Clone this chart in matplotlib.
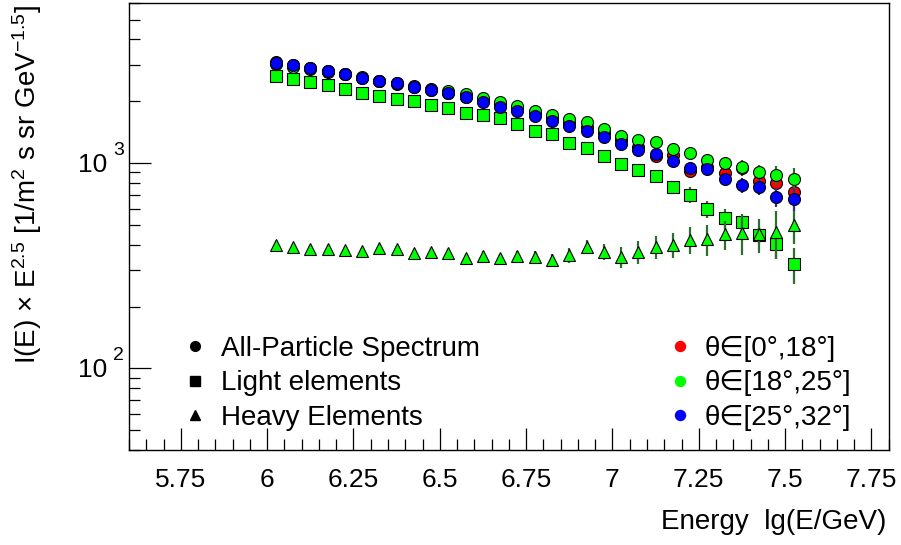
import matplotlib
matplotlib.use('Agg')
import numpy as np
import matplotlib.pyplot as plt
from matplotlib.lines import Line2D
from matplotlib.ticker import MultipleLocator, FixedLocator, NullFormatter, LogLocator
from matplotlib.transforms import offset_copy

plt.rcParams['font.family'] = ['Liberation Sans', 'DejaVu Sans']
plt.rcParams['mathtext.fontset'] = 'custom'
plt.rcParams['mathtext.rm'] = 'Liberation Sans'
plt.rcParams['mathtext.it'] = 'Liberation Sans:italic'
plt.rcParams['mathtext.default'] = 'regular'

# ---------------- data ----------------
lg_E = [6.025, 6.075, 6.125, 6.175, 6.225, 6.275, 6.325, 6.375, 6.425, 6.475,
        6.525, 6.575, 6.625, 6.675, 6.725, 6.775, 6.825, 6.875, 6.925, 6.975,
        7.025, 7.075, 7.125, 7.175, 7.225, 7.275, 7.325, 7.375, 7.425, 7.475, 7.525]

all_theta0 = [3105, 3018, 2902, 2806, 2714, 2610, 2508, 2439, 2359, 2268,
              2193, 2108, 2005, 1917, 1832, 1733, 1657, 1566, 1497, 1400,
              1294, 1200, 1082, 1094, 917, 953, 891, 945, 820, 796, 725]
all_theta1 = [3035, 2935, 2870, 2775, 2714, 2624, 2522, 2453, 2372, 2306,
              2242, 2168, 2066, 1989, 1895, 1786, 1723, 1633, 1589, 1459,
              1354, 1294, 1261, 1166, 1122, 1034, 997, 959, 901, 874, 833]
all_theta2 = [3081, 2991, 2893, 2797, 2704, 2604, 2508, 2444, 2345, 2260,
              2185, 2089, 1975, 1880, 1792, 1694, 1602, 1514, 1437, 1343,
              1233, 1157, 1106, 1026, 942, 932, 833, 781, 767, 685, 668]
all_err_rel = [0.01, 0.01, 0.01, 0.01, 0.01, 0.01, 0.012, 0.012, 0.012, 0.014,
               0.014, 0.015, 0.016, 0.017, 0.018, 0.019, 0.02, 0.021, 0.022, 0.024,
               0.025, 0.03, 0.035, 0.04, 0.045, 0.05, 0.06, 0.08, 0.09, 0.105, 0.13]

light = [2653, 2574, 2480, 2391, 2301, 2200, 2120, 2057, 2005, 1917,
         1847, 1752, 1713, 1651, 1549, 1435, 1380, 1256, 1187, 1082,
         985, 924, 864, 761, 698, 595, 542, 518, 446, 402, 322]
light_err_rel = [0.01, 0.01, 0.01, 0.01, 0.01, 0.012, 0.012, 0.012, 0.014, 0.014,
                 0.015, 0.016, 0.018, 0.02, 0.022, 0.025, 0.028, 0.03, 0.035, 0.04,
                 0.045, 0.05, 0.055, 0.07, 0.09, 0.095, 0.105, 0.095, 0.095, 0.14, 0.2]

heavy = [399, 391, 381, 380, 377, 374, 384, 380, 363, 370,
         366, 346, 354, 343, 352, 350, 337, 356, 391, 370,
         350, 370, 391, 399, 422, 425, 449, 455, 449, 463, 499]
heavy_err_rel = [0.03, 0.03, 0.03, 0.03, 0.03, 0.03, 0.035, 0.035, 0.04, 0.04,
                 0.04, 0.045, 0.05, 0.05, 0.055, 0.06, 0.065, 0.08, 0.08, 0.094,
                 0.12, 0.13, 0.13, 0.14, 0.15, 0.17, 0.16, 0.22, 0.19, 0.26, 0.19]

x_ticks = [5.75, 6.0, 6.25, 6.5, 6.75, 7.0, 7.25, 7.5, 7.75]
x_ticklabels = ['5.75', '6', '6.25', '6.5', '6.75', '7', '7.25', '7.5', '7.75']
y_ticks = [100, 1000]
y_tick_exps = ['2', '3']

theta_labels = ['θ∈[0°,18°]', 'θ∈[18°,25°]', 'θ∈[25°,32°]']
comp_labels = ['All-Particle Spectrum', 'Light elements', 'Heavy Elements']

# ---------------- figure ----------------
fig = plt.figure(figsize=(9.01, 5.45), dpi=100)
ax = fig.add_axes([129 / 901, 95 / 545, 759.7 / 901, 446.7 / 545])
ax.set_yscale('log')
ax.set_xlim(5.6, 7.8)
ax.set_ylim(40, 6000)

RED, GREEN, BLUE = '#ff0000', '#00ff00', '#0000ff'
ERR_G, ERR_B, ERR_R = '#2e6e2e', '#2e2e80', '#802e2e'

x = np.array(lg_E)

def draw(vals, rel, color, ecolor, marker, ms, z):
    v = np.array(vals, dtype=float)
    ax.errorbar(x, v, yerr=v * np.array(rel), fmt='none', ecolor=ecolor,
                elinewidth=1.6, capsize=0, zorder=z - 0.5)
    ax.plot(x, v, linestyle='none', marker=marker, markersize=ms,
            markerfacecolor=color, markeredgecolor='black', markeredgewidth=0.8,
            zorder=z)

draw(light, light_err_rel, GREEN, ERR_G, 's', 8.0, 2)
draw(heavy, heavy_err_rel, GREEN, ERR_G, '^', 8.5, 2.5)
draw(all_theta0, all_err_rel, RED, ERR_R, 'o', 8.6, 3)
draw(all_theta1, all_err_rel, GREEN, ERR_G, 'o', 8.6, 4)
draw(all_theta2, all_err_rel, BLUE, ERR_B, 'o', 8.6, 5)

# axes styling
for s in ax.spines.values():
    s.set_linewidth(1.0)
ax.xaxis.set_major_locator(FixedLocator(x_ticks))
ax.xaxis.set_minor_locator(MultipleLocator(0.05))
ax.set_xticklabels(x_ticklabels)
ax.yaxis.set_major_locator(FixedLocator(y_ticks))
ax.yaxis.set_minor_locator(LogLocator(base=10, subs=np.arange(2, 10)))
ax.yaxis.set_major_formatter(NullFormatter())
ax.yaxis.set_minor_formatter(NullFormatter())
ax.tick_params(which='both', direction='in', top=False, right=False, width=0.9)
ax.tick_params(which='major', length=16)
ax.tick_params(which='minor', length=8)
ax.tick_params(axis='x', which='major', labelsize=19, pad=13)

# y tick labels as 10 + superscript
for val, e in zip(y_ticks, y_tick_exps):
    t1 = offset_copy(ax.get_yaxis_transform(), fig=fig, x=-22, y=-2, units='dots')
    ax.text(0, val, '10', transform=t1, ha='right', va='center', fontsize=19)
    t2 = offset_copy(ax.get_yaxis_transform(), fig=fig, x=-16, y=13, units='dots')
    ax.text(0, val, e, transform=t2, ha='left', va='center', fontsize=14)

# axis titles
fig.text(27 / 901, 540 / 545,
         'I(E) × E$^{2.5}$ [1/m$^{2}$ s sr GeV$^{-1.5}$]',
         rotation=90, ha='center', va='top', fontsize=20)
fig.text(886 / 901, (545 - 522) / 545, 'Energy  lg(E/GeV)',
         ha='right', va='center', fontsize=20)

# legends
comp_handles = [Line2D([], [], linestyle='none', marker=m, markersize=ms,
                       color='black') for m, ms in zip(['o', 's', '^'], [7, 6.5, 7.5])]
leg1 = ax.legend(comp_handles, comp_labels, loc='upper left',
                 bbox_to_anchor=(181 / 901, (545 - 336) / 545),
                 bbox_transform=fig.transFigure, frameon=False, fontsize=20,
                 handlelength=1.0, handletextpad=0.45, labelspacing=0.3,
                 borderpad=0, borderaxespad=0)
ax.add_artist(leg1)

theta_handles = [Line2D([], [], linestyle='none', marker='o', markersize=7.2,
                        markerfacecolor=c, markeredgecolor=c) for c in [RED, GREEN, BLUE]]
leg2 = ax.legend(theta_handles, theta_labels, loc='upper left',
                 bbox_to_anchor=(666 / 901, (545 - 336) / 545),
                 bbox_transform=fig.transFigure, frameon=False, fontsize=20,
                 handlelength=1.0, handletextpad=0.4, labelspacing=0.3,
                 borderpad=0, borderaxespad=0)

fig.savefig('out.png', dpi=100)
